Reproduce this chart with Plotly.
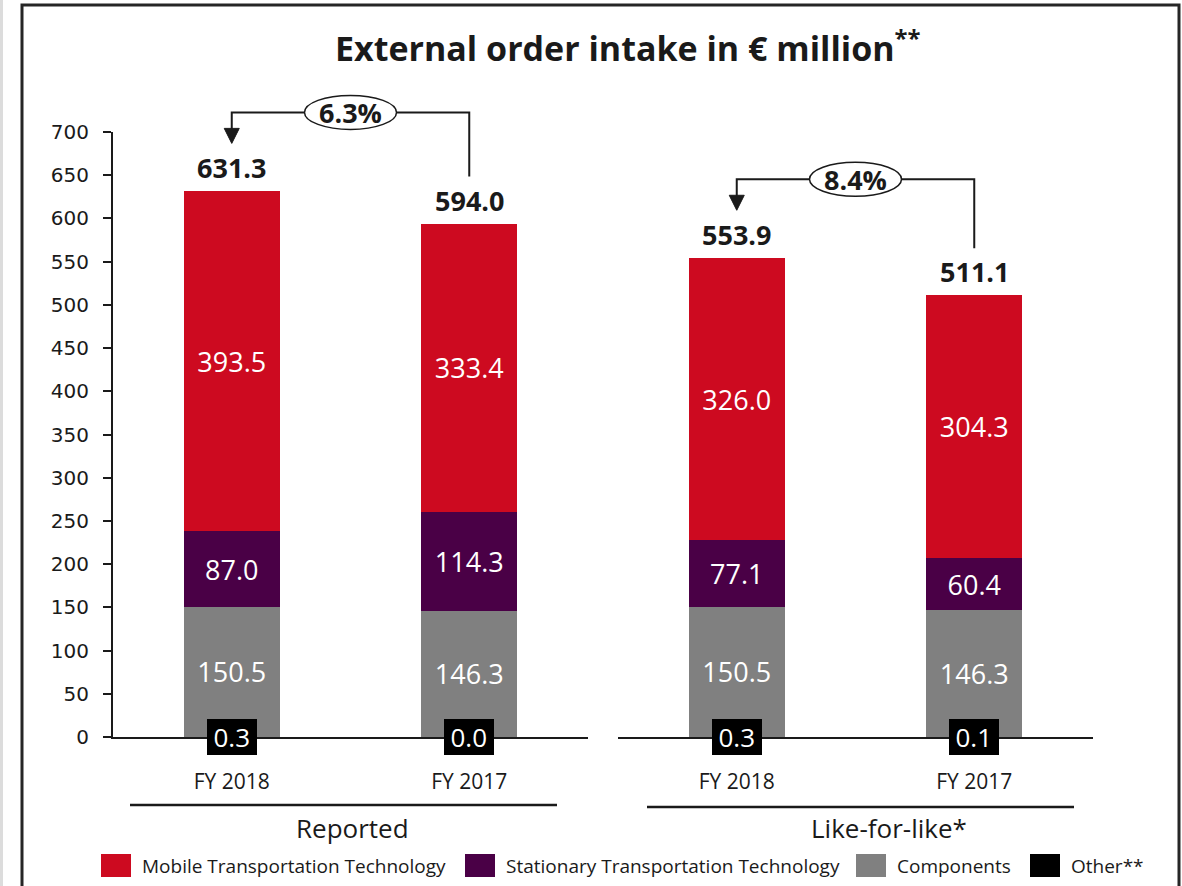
import plotly.graph_objects as go

# ---------------- data ----------------
categories = ["FY 2018", "FY 2017"]
groups = ["Reported", "Like-for-like*"]
other_vals = [[0.3, 0.0], [0.3, 0.1]]
components_vals = [[150.5, 146.3], [150.5, 146.3]]
stationary_vals = [[87.0, 114.3], [77.1, 60.4]]
mobile_vals = [[393.5, 333.4], [326.0, 304.3]]
totals = [[631.3, 594.0], [553.9, 511.1]]
changes = ["6.3%", "8.4%"]
y_ticks = list(range(0, 701, 50))

series_names = ["Mobile Transportation Technology", "Stationary Transportation Technology",
                "Components", "Other**"]
colors = {"Mobile Transportation Technology": "#CD0A20",
          "Stationary Transportation Technology": "#4A0046",
          "Components": "#808080",
          "Other**": "#000000"}

W, H = 1182, 886
FONT = "Open Sans"
TXT = "#1a1a1a"

# pixel layout
Y0_PX, Y700_PX = 737, 132
dom_x = [(113, 588), (618, 1093)]


def px(x):
    return x / W


def py(y):
    return 1 - y / H


def ypx(v):
    return Y0_PX - v * (Y0_PX - Y700_PX) / 700.0


def xc_px(g, i):
    a, b = dom_x[g]
    return a + (i + 0.5) * (b - a) / 2


fig = go.Figure()

for g in range(2):
    xa = "x" if g == 0 else "x2"
    ya = "y" if g == 0 else "y2"
    stack = [("Other**", other_vals[g], False),
             ("Components", components_vals[g], True),
             ("Stationary Transportation Technology", stationary_vals[g], True),
             ("Mobile Transportation Technology", mobile_vals[g], True)]
    for name, vals, show_text in stack:
        if show_text:
            kw = dict(texttemplate="%{y:.1f}", textposition="inside",
                      insidetextanchor="middle", textangle=0,
                      insidetextfont=dict(family=FONT, size=27, color="white"))
        else:
            kw = dict(textposition="none")
        fig.add_trace(go.Bar(
            x=categories, y=vals, name=name, xaxis=xa, yaxis=ya,
            marker=dict(color=colors[name], line=dict(width=0)),
            showlegend=False, hoverinfo="skip", **kw,
        ))

fig.update_layout(
    width=W, height=H, barmode="stack", bargap=0.596,
    margin=dict(l=0, r=0, t=0, b=0, pad=0, autoexpand=False),
    paper_bgcolor="white", plot_bgcolor="white",
    font=dict(family=FONT, color=TXT),
    showlegend=False,
)

ydom = [py(Y0_PX), py(Y700_PX)]
common_x = dict(showgrid=False, zeroline=False, showline=True, linecolor="#1a1a1a",
                linewidth=2, ticks="", tickfont=dict(family=FONT, size=21, color=TXT),
                ticklabelstandoff=25, fixedrange=True, automargin=False)
fig.update_layout(
    xaxis=dict(domain=[px(dom_x[0][0]), px(dom_x[0][1])], anchor="y", **common_x),
    xaxis2=dict(domain=[px(dom_x[1][0]), px(dom_x[1][1])], anchor="y2", **common_x),
    yaxis=dict(domain=ydom, range=[0, 700], tickvals=y_ticks, showgrid=False, zeroline=False,
               showline=True, linecolor="#1a1a1a", linewidth=2, ticks="outside", ticklen=8,
               tickwidth=1.5, tickcolor="#1a1a1a", ticklabelstandoff=10, automargin=False,
               tickfont=dict(family="DejaVu Sans", size=20, color=TXT), anchor="x",
               fixedrange=True),
    yaxis2=dict(domain=ydom, range=[0, 700], showgrid=False, zeroline=False, showline=False,
                showticklabels=False, ticks="", anchor="x2", fixedrange=True, automargin=False),
)

shapes = []
annotations = []

# frame
shapes.append(dict(type="rect", xref="paper", yref="paper", x0=0, x1=px(3), y0=0, y1=1,
                   fillcolor="#dcdcdc", line=dict(width=0), layer="below"))
shapes.append(dict(type="rect", xref="paper", yref="paper", x0=px(22), x1=px(1179),
                   y0=py(900), y1=py(5), line=dict(color="#262626", width=3),
                   fillcolor="rgba(0,0,0,0)", layer="above"))

# title
annotations.append(dict(text="<b>External order intake in € million<sup>**</sup></b>",
                        xref="paper", yref="paper", x=px(628), y=py(46),
                        xanchor="center", yanchor="middle", showarrow=False,
                        font=dict(family=FONT, size=34, color=TXT)))

LC = "#1a1a1a"
SP = "\u2005"
for g in range(2):
    xa = "x" if g == 0 else "x2"
    ya = "y" if g == 0 else "y2"
    # totals and "other" labels
    for i, cat in enumerate(categories):
        annotations.append(dict(text=f"<b>{totals[g][i]:.1f}</b>", x=cat, y=totals[g][i],
                                xref=xa, yref=ya, xanchor="center", yanchor="bottom",
                                yshift=3, showarrow=False,
                                font=dict(family=FONT, size=27, color=TXT)))
        annotations.append(dict(text=f"{SP}{other_vals[g][i]:.1f}{SP}", x=cat, y=0,
                                xref=xa, yref=ya, xanchor="center", yanchor="middle",
                                showarrow=False, bgcolor="black", borderpad=0, borderwidth=0,
                                font=dict(family=FONT, size=26, color="white")))
    # change bracket arrow
    x1 = xc_px(g, 0)
    x2 = xc_px(g, 1)
    top1 = ypx(totals[g][0])
    top2 = ypx(totals[g][1])
    hy = top1 - 79
    tip = top1 - 48
    bot2 = top2 - 47
    path = (f"M {px(x2)},{py(bot2)} L {px(x2)},{py(hy)} L {px(x1)},{py(hy)} "
            f"L {px(x1)},{py(tip - 14)}")
    shapes.append(dict(type="path", xref="paper", yref="paper", path=path,
                       line=dict(color=LC, width=2)))
    tri = (f"M {px(x1 - 7.5)},{py(tip - 15)} L {px(x1 + 7.5)},{py(tip - 15)} "
           f"L {px(x1)},{py(tip)} Z")
    shapes.append(dict(type="path", xref="paper", yref="paper", path=tri,
                       fillcolor=LC, line=dict(color=LC, width=1)))
    cx = (x1 + x2) / 2
    shapes.append(dict(type="circle", xref="paper", yref="paper",
                       x0=px(cx - 46), x1=px(cx + 46), y0=py(hy + 17), y1=py(hy - 17),
                       fillcolor="white", line=dict(color=LC, width=1.5)))
    annotations.append(dict(text=f"<b>{changes[g]}</b>", xref="paper", yref="paper",
                            x=px(cx), y=py(hy), xanchor="center", yanchor="middle",
                            showarrow=False, font=dict(family=FONT, size=27, color=TXT)))

# group brackets and labels
brackets = [(130, 557, 805, 352), (647, 1074, 807, 889)]
for g, (a, b, yy, tx) in enumerate(brackets):
    shapes.append(dict(type="line", xref="paper", yref="paper", x0=px(a), x1=px(b),
                       y0=py(yy), y1=py(yy), line=dict(color=LC, width=2.5)))
    annotations.append(dict(text=groups[g], xref="paper", yref="paper", x=px(tx), y=py(828),
                            xanchor="center", yanchor="middle", showarrow=False,
                            font=dict(family=FONT, size=26, color=TXT)))

# custom legend
leg_sq_x = [101, 465, 856, 1030]
for name, sx in zip(series_names, leg_sq_x):
    shapes.append(dict(type="rect", xref="paper", yref="paper", x0=px(sx), x1=px(sx + 30),
                       y0=py(877), y1=py(854), fillcolor=colors[name], line=dict(width=0)))
    annotations.append(dict(text=name, xref="paper", yref="paper", x=px(sx + 39), y=py(866),
                            xanchor="left", yanchor="middle", showarrow=False,
                            font=dict(family=FONT, size=19, color=TXT)))

fig.update_layout(shapes=shapes, annotations=annotations)
fig.write_html("out.html")
